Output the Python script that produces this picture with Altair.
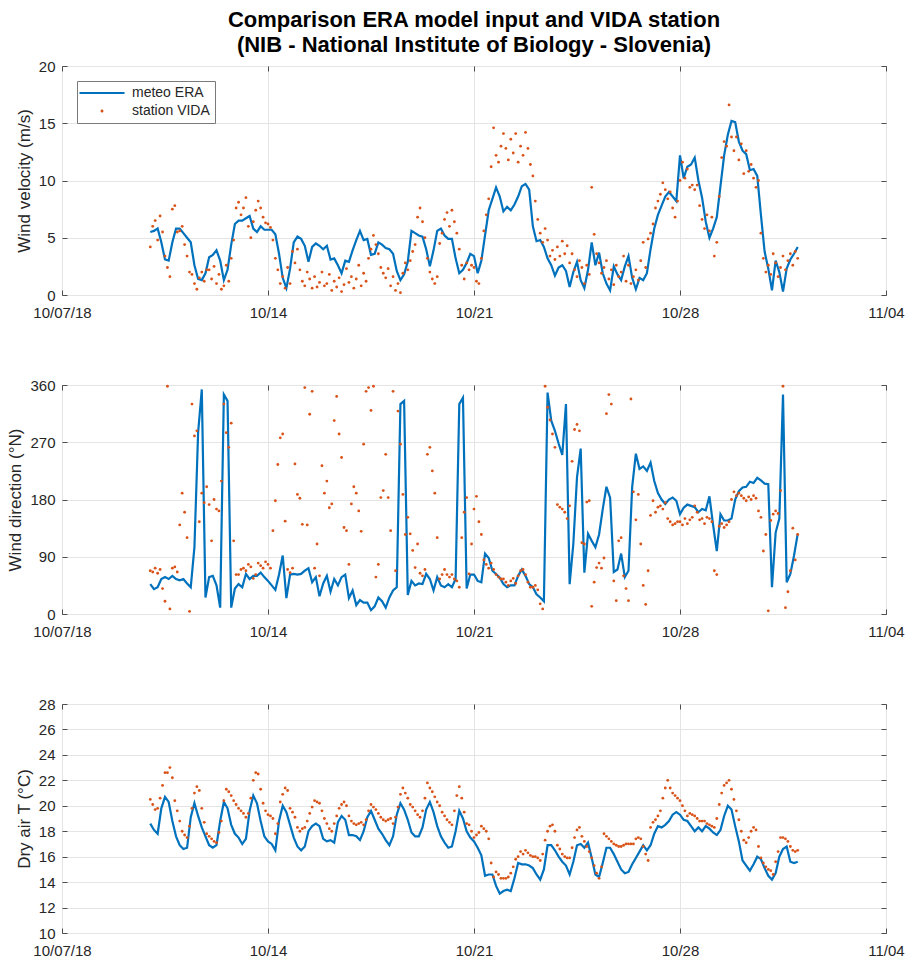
import altair as alt
import pandas as pd

# ERA model input, 3-hourly, 2018-10-10 00:00 .. 2018-11-01 00:00
era_speed = [
    5.5, 5.6, 5.8, 4.6, 3.1, 3.0, 4.6, 5.8,
    5.8, 5.4, 5.0, 4.6, 2.6, 1.4, 1.3, 1.9,
    3.3, 3.5, 3.9, 3.0, 1.3, 2.2, 4.4, 6.2,
    6.5, 6.5, 6.7, 6.9, 5.8, 5.5, 6.0, 5.7,
    5.7, 5.7, 5.3, 3.6, 1.5, 0.6, 2.3, 4.6,
    5.1, 4.9, 4.3, 2.9, 4.2, 4.5, 4.3, 4.0,
    4.3, 3.1, 3.2, 2.6, 1.9, 3.0, 2.9, 3.9,
    4.8, 5.6, 4.8, 4.9, 3.5, 3.6, 4.6, 4.4,
    4.1, 4.0, 3.6, 2.1, 1.3, 1.8, 2.9, 5.6,
    5.4, 5.2, 5.1, 4.0, 2.5, 3.9, 5.6, 5.8,
    5.2, 4.9, 4.9, 3.2, 1.9, 2.2, 2.8, 3.6,
    3.4, 1.9, 3.0, 5.2, 7.4, 8.4, 9.4, 8.6,
    7.3, 7.7, 7.4, 7.9, 8.6, 9.5, 9.7, 9.2,
    6.0, 4.7, 4.8, 4.2, 3.2, 2.6, 1.7, 2.4,
    2.6, 2.1, 0.7, 2.0, 2.9, 1.3, 0.6, 2.2,
    4.6, 2.6, 3.7, 1.9, 1.0, 0.4, 2.5, 1.8,
    1.3, 2.5, 3.4, 1.5, 0.5, 1.5, 1.3, 1.9,
    4.0, 5.8, 7.0, 7.8, 8.6, 9.0, 8.6, 8.2,
    12.2, 10.2, 11.2, 11.4, 12.0, 10.0, 8.5, 6.4,
    5.0, 5.8, 6.8, 9.5, 12.2, 14.0, 15.2, 15.1,
    13.4, 12.6, 12.3, 10.9, 11.0, 10.4, 7.0, 3.8,
    2.3, 0.4, 3.0, 2.0, 0.3, 2.3, 3.1, 3.6,
    4.2,
]
era_dir = [
    47, 39, 42, 55, 58, 55, 60, 55,
    53, 55, 48, 42, 105, 285, 353, 26,
    58, 60, 45, 10, 345, 335, 10, 40,
    47, 42, 63, 55, 60, 60, 65, 58,
    52, 45, 38, 62, 92, 25, 62, 63,
    62, 63, 68, 72, 50, 58, 28, 48,
    60, 35, 55, 45, 58, 62, 25, 37,
    14, 22, 18, 18, 6, 12, 26, 20,
    10, 26, 37, 42, 330, 335, 30, 52,
    45, 48, 47, 63, 55, 37, 58, 45,
    42, 47, 42, 55, 330, 340, 40, 62,
    62, 52, 50, 95, 88, 68, 63, 57,
    47, 42, 45, 45, 60, 70, 60, 47,
    42, 31, 26, 20, 348, 304, 288, 268,
    250, 330, 47, 110, 215, 260, 65, 126,
    115, 105, 125, 165, 200, 183, 66, 70,
    95, 58, 68, 200, 252, 228, 232, 225,
    238, 209, 190, 180, 173, 180, 183, 178,
    157, 167, 172, 170, 168, 160, 165, 163,
    185, 140, 99, 157, 147, 147, 150, 180,
    193, 199, 200, 208, 206, 214, 210, 205,
    204, 42, 128, 150, 345, 50, 63, 92,
    126,
]
era_temp = [
    18.6, 18.1, 17.8, 19.8, 20.7, 20.3, 18.8, 17.6,
    16.9, 16.6, 16.7, 19.1, 20.2, 19.2, 18.3, 17.6,
    16.9, 16.7, 16.9, 18.8, 20.3, 19.8, 18.5, 17.8,
    17.5, 17.0, 17.4, 19.6, 20.8, 20.2, 18.8, 17.6,
    17.2, 17.0, 16.5, 18.8, 20.0, 19.5, 18.5, 17.5,
    16.8, 16.5, 16.8, 18.0, 18.4, 18.6, 18.4, 17.4,
    17.2, 17.3, 17.1, 18.7, 19.2, 18.9, 17.7, 17.7,
    17.6, 17.3, 18.0, 19.1, 19.6, 18.9, 18.2, 17.8,
    17.3, 16.9, 17.6, 19.3, 20.2, 19.7, 18.9, 17.9,
    17.6, 17.6, 18.3, 19.7, 20.3, 19.5, 18.4, 17.6,
    17.1, 16.7, 16.8, 18.0, 19.6, 19.0, 18.0, 17.5,
    17.2, 16.7, 16.1, 14.5, 14.6, 14.6, 13.7, 13.1,
    13.3, 13.4, 13.3, 14.3, 15.5, 15.4, 15.4, 15.3,
    15.1, 14.6, 14.2, 15.0, 16.9, 16.9, 16.5, 16.0,
    15.6, 15.3, 14.6, 15.6, 16.9, 17.0, 16.7, 17.1,
    15.9, 14.6, 14.4, 15.5, 16.7, 16.7, 16.2, 15.6,
    15.0, 14.7, 14.8, 15.4, 15.9, 16.4, 16.9, 16.5,
    16.9, 17.8, 18.4, 18.3, 18.5, 18.8, 19.3, 19.5,
    19.3, 18.9, 18.8, 18.4, 18.0, 18.3, 18.0, 18.4,
    18.2, 17.9, 17.7, 18.1, 19.2, 20.0, 19.7, 18.4,
    17.2, 15.7, 15.3, 14.9, 15.4, 16.0, 15.8, 15.1,
    14.5, 14.2, 14.7, 16.0, 16.6, 16.8, 15.6, 15.5,
    15.6,
]

# VIDA station record, 2-hourly, 2018-10-10 00:00 .. 2018-11-01 00:00
vida_speed = [
    4.2, 6.0, 6.5, 4.8, 6.9, 5.5, 3.4, 2.4, 1.6, 7.5, 7.8, 5.5,
    5.6, 6.0, 4.4, 3.4, 2.0, 1.8, 1.0, 0.5, 1.5, 2.0, 1.2, 2.2,
    2.2, 1.4, 2.5, 1.0, 1.8, 0.5, 0.8, 2.6, 1.2, 3.2, 4.8, 7.6,
    8.1, 7.0, 7.6, 8.5, 6.0, 5.0, 6.4, 7.4, 8.2, 7.6, 6.8, 6.3,
    6.2, 5.9, 4.8, 3.2, 2.2, 1.0, 1.6, 0.6, 2.4, 1.0, 3.8, 2.8,
    4.0, 2.2, 1.2, 0.8, 2.0, 1.4, 0.6, 1.6, 0.7, 1.1, 2.0, 0.8,
    1.0, 1.8, 0.4, 1.2, 0.7, 1.5, 0.3, 0.9, 2.3, 1.1, 1.6, 0.6,
    1.4, 2.6, 0.8, 1.9, 1.2, 3.2, 4.0, 5.2, 4.4, 3.6, 2.4, 1.9,
    1.5, 2.3, 0.8, 1.6, 0.4, 1.0, 0.2, 1.9, 2.8, 2.2, 3.0, 3.8,
    4.4, 6.8, 7.6, 6.4, 5.0, 3.2, 2.0, 1.4, 1.0, 1.6, 4.5, 5.4,
    6.6, 7.2, 6.0, 7.4, 6.4, 5.4, 4.0, 2.6, 1.4, 2.8, 2.2, 2.6,
    2.4, 1.2, 1.0, 3.2, 5.6, 7.0, 8.4, 11.2, 14.6, 12.2, 11.6, 13.0,
    14.1, 12.8, 11.8, 13.6, 12.4, 14.1, 11.6, 13.0, 12.2, 14.2, 12.8, 11.4,
    10.4, 8.2, 6.6, 5.4, 4.6, 5.8, 4.8, 3.4, 3.9, 3.1, 4.2, 3.4,
    4.7, 3.6, 4.3, 2.8, 3.6, 2.2, 1.6, 3.0, 2.4, 1.0, 2.6, 1.8,
    9.4, 5.3, 3.6, 2.8, 1.9, 2.4, 3.0, 1.4, 2.2, 0.9, 2.6, 1.6,
    2.0, 3.4, 1.2, 2.6, 1.0, 1.6, 2.2, 1.3, 3.0, 4.6, 2.4, 4.9,
    5.4, 6.2, 7.6, 8.2, 8.8, 9.8, 9.2, 8.4, 9.0, 7.6, 6.8, 8.2,
    10.0, 11.6, 10.2, 11.0, 9.4, 9.6, 9.2, 9.6, 7.8, 6.6, 5.8, 7.0,
    5.6, 6.8, 3.4, 4.6, 8.6, 12.0, 13.4, 13.0, 16.6, 13.8, 12.6, 13.8,
    11.8, 13.2, 10.6, 12.6, 10.8, 11.4, 10.2, 9.4, 10.0, 5.4, 3.2, 2.0,
    2.6, 1.8, 3.6, 2.8, 1.6, 2.4, 3.4, 2.2, 3.0, 3.6, 2.6, 3.8,
    3.2,
]
vida_dir = [
    68, 66, 72, 64, 70, 40, 20, 358, 8, 72, 74, 66,
    140, 190, 160, 120, 4, 330, 280, 288, 145, 190, 175, 200,
    172, 115, 180, 165, 162, 209, 330, 285, 262, 300, 115, 62,
    62, 70, 72, 68, 78, 74, 56, 62, 80, 76, 72, 82,
    78, 72, 131, 178, 235, 277, 283, 146, 70, 65, 72, 236,
    188, 182, 141, 356, 140, 314, 350, 72, 110, 60, 233, 190,
    209, 167, 173, 304, 342, 283, 246, 136, 131, 78, 173, 200,
    190, 162, 130, 267, 350, 356, 320, 358, 58, 78, 183, 194,
    251, 183, 131, 350, 68, 319, 267, 188, 125, 152, 126, 100,
    73, 110, 64, 60, 70, 251, 262, 225, 190, 120, 55, 62,
    70, 62, 58, 62, 55, 52, 42, 120, 160, 183, 63, 110,
    165, 185, 145, 125, 85, 78, 72, 80, 70, 62, 58, 55,
    55, 50, 45, 52, 56, 48, 60, 68, 70, 62, 50, 42,
    42, 45, 38, 16, 8, 358, 325, 305, 283, 262, 172, 168,
    165, 160, 150, 170, 240, 290, 298, 288, 112, 110, 176, 178,
    12, 50, 73, 80, 72, 88, 315, 345, 330, 52, 21, 115,
    120, 60, 40, 21, 338, 192, 148, 188, 110, 45, 15, 68,
    155, 178, 160, 168, 170, 165, 175, 150, 145, 140, 142, 145,
    145, 140, 150, 142, 148, 152, 170, 160, 148, 150, 142, 152,
    150, 145, 68, 62, 138, 142, 136, 140, 145, 180, 192, 186,
    190, 186, 182, 178, 184, 180, 186, 182, 162, 152, 99, 125,
    5, 147, 157, 162, 158, 194, 358, 10, 35, 68, 135, 85,
    125,
]
vida_temp = [
    20.5, 20.1, 19.7, 19.8, 20.6, 21.6, 22.6, 22.6, 23.0, 22.2, 20.4, 19.6,
    18.8, 18.0, 17.7, 17.5, 18.4, 19.8, 21.0, 21.5, 21.2, 19.8, 18.7, 17.8,
    17.6, 17.4, 17.2, 17.1, 17.9, 18.8, 20.4, 21.3, 21.1, 20.8, 20.4, 20.1,
    19.8, 19.6, 19.4, 19.1, 19.4, 20.6, 22.0, 22.6, 22.5, 21.3, 20.2, 19.6,
    19.3, 19.2, 19.0, 17.8, 18.6, 20.3, 20.9, 21.4, 21.2, 19.8, 19.5, 19.1,
    18.3, 18.0, 18.2, 18.3, 18.8, 19.4, 19.9, 20.4, 20.3, 20.2, 19.6, 19.0,
    18.6, 18.2, 18.0, 18.6, 19.2, 19.8, 20.1, 20.3, 20.0, 19.2, 18.8, 18.6,
    18.5, 18.6, 18.7, 18.5, 18.9, 19.6, 20.1, 19.9, 19.7, 19.4, 19.1, 18.9,
    18.8, 18.9, 19.0, 18.6, 19.1, 19.9, 20.9, 21.4, 21.0, 20.6, 20.1, 19.9,
    19.6, 19.3, 19.1, 19.6, 20.6, 21.8, 21.4, 21.1, 20.7, 20.3, 20.0, 19.5,
    19.2, 18.9, 18.7, 18.5, 19.6, 20.8, 21.5, 20.6, 19.5, 18.6, 18.5, 18.0,
    17.5, 17.7, 17.9, 18.4, 18.2, 18.0, 17.4, 15.5, 14.4, 14.8, 14.6, 14.3,
    14.3, 14.3, 14.4, 14.7, 15.2, 15.8, 16.0, 16.4, 16.2, 16.5, 16.3, 16.1,
    16.0, 16.0, 15.9, 15.7, 16.2, 17.3, 18.0, 18.4, 18.5, 18.0, 16.9, 16.6,
    16.2, 16.0, 15.9, 15.9, 16.7, 17.5, 18.1, 18.3, 17.6, 17.2, 16.8, 16.4,
    15.9, 15.3, 14.7, 14.3, 15.2, 17.8, 17.6, 17.4, 17.2, 17.0, 16.9, 16.8,
    16.8, 16.9, 17.0, 17.0, 17.0, 17.0, 17.4, 17.5, 17.4, 16.8, 16.2, 15.7,
    18.3, 18.7, 18.9, 19.2, 19.6, 20.6, 21.4, 22.0, 21.4, 21.0, 20.8, 20.6,
    20.4, 20.0, 19.6, 19.2, 19.4, 19.3, 19.2, 19.0, 18.8, 18.8, 18.8, 18.6,
    18.5, 18.4, 18.3, 19.0, 20.1, 21.0, 21.6, 21.8, 22.0, 21.3, 20.5, 19.6,
    18.9, 18.0, 17.3, 17.1, 17.5, 18.0, 18.3, 18.1, 16.8, 15.9, 15.5, 15.2,
    15.0, 14.9, 14.6, 15.6, 16.4, 17.5, 17.5, 17.4, 17.2, 16.8, 16.5, 16.4,
    16.5,
]

ERA_NAME = "meteo ERA"
VIDA_NAME = "station VIDA"
BLUE = "#0072BD"
ORANGE = "#D95319"

era = pd.DataFrame({
    "time": pd.date_range("2018-10-10", "2018-11-01", freq="3h"),
    "speed": era_speed, "direction": era_dir, "temp": era_temp,
    "source": ERA_NAME,
})
vida = pd.DataFrame({
    "time": pd.date_range("2018-10-10", "2018-11-01", freq="2h"),
    "speed": vida_speed, "direction": vida_dir, "temp": vida_temp,
    "source": VIDA_NAME,
})

W, H = 824, 229
FONT = "Liberation Sans"
TEXT = "#262626"

x_scale = alt.Scale(domain=[alt.DateTime(year=2018, month=10, date=7),
                            alt.DateTime(year=2018, month=11, date=4)])
x_ticks = [alt.DateTime(year=2018, month=10, date=d) for d in (7, 14, 21, 28)] + \
          [alt.DateTime(year=2018, month=11, date=4)]
x_label = ("timeFormat(datum.value, '%m/%d') + "
           "((month(datum.value) == 9 && date(datum.value) == 7) ? '/18' : '')")

# legend: a line sample for the model, a small dot for the station
color_scale = alt.Scale(domain=[ERA_NAME, VIDA_NAME], range=[BLUE, ORANGE])
is_era = "datum.value === '" + ERA_NAME + "'"
dot_path = "M-0.3,0A0.3,0.3 0 1,0 0.3,0A0.3,0.3 0 1,0 -0.3,0Z"
legend = alt.Legend(
    title=None, orient="top-left", offset=15,
    labelFont=FONT, labelFontSize=14, labelColor=TEXT,
    strokeColor="#7a7a7a", fillColor="white", padding=5,
    symbolSize=100, symbolOffset=13, labelOffset=23, rowPadding=4,
    symbolType={"expr": f"{is_era} ? 'M-4.5,0H4.5' : '{dot_path}'"},
    symbolStrokeWidth={"expr": f"{is_era} ? 2 : 0"},
    symbolStrokeColor={"expr": f"{is_era} ? '{BLUE}' : '{ORANGE}'"},
    symbolFillColor={"expr": f"{is_era} ? 'transparent' : '{ORANGE}'"},
    symbolOpacity=1,
)


def panel(field, ydomain, yticks, ytitle, with_legend=False):
    y_scale = alt.Scale(domain=ydomain, nice=False, zero=False)

    # main axes: labels, grid and titles
    x_main = alt.X("time:T", scale=x_scale, axis=alt.Axis(
        values=x_ticks, labelExpr=x_label, title=None, grid=True, ticks=False,
        domain=False, labelFlush=False, labelPadding=10))
    y_main = alt.Y(f"{field}:Q", scale=y_scale, axis=alt.Axis(
        values=yticks, title=ytitle, grid=True, ticks=False, domain=False,
        labelPadding=7, titlePadding=5))

    # inward tick marks on all four sides of the box
    tick_opts = dict(labels=False, grid=False, domain=False, title=None,
                     ticks=True, tickSize=5, tickColor="#4d4d4d", tickWidth=1)
    x_in_bottom = alt.X("time:T", scale=x_scale, axis=alt.Axis(
        orient="top", offset=-H, values=x_ticks, **tick_opts))
    y_in_left = alt.Y(f"{field}:Q", scale=y_scale, axis=alt.Axis(
        orient="right", offset=-W, values=yticks, **tick_opts))
    x_in_top = alt.X("time:T", scale=x_scale, axis=alt.Axis(
        orient="bottom", offset=-H, values=x_ticks, **tick_opts))
    y_in_right = alt.Y(f"{field}:Q", scale=y_scale, axis=alt.Axis(
        orient="left", offset=-W, values=yticks, **tick_opts))

    if with_legend:
        line_color = alt.Color("source:N", scale=color_scale, legend=legend)
        dot_color = alt.Color("source:N", scale=color_scale, legend=legend)
    else:
        line_color = alt.value(BLUE)
        dot_color = alt.value(ORANGE)

    dots = alt.Chart(vida).mark_circle(size=8, opacity=1).encode(
        x=x_in_bottom, y=y_in_left, color=dot_color)
    line = alt.Chart(era).mark_line(strokeWidth=2.2).encode(
        x=x_main, y=y_main, color=line_color)
    frame_ticks = alt.Chart(era).mark_line(opacity=0).encode(
        x=x_in_top, y=y_in_right)

    return alt.layer(line, dots, frame_ticks).resolve_axis(
        x="independent", y="independent").properties(width=W, height=H)


p1 = panel("speed", [0, 20], [0, 5, 10, 15, 20], "Wind velocity (m/s)", with_legend=True)
p2 = panel("direction", [0, 360], [0, 90, 180, 270, 360], "Wind direction (°N)")
p3 = panel("temp", [10, 28], list(range(10, 29, 2)), "Dry air T (°C)")

chart = alt.vconcat(p1, p2, p3, spacing=90, bounds="flush").properties(
    title=alt.TitleParams(
        ["Comparison ERA model input and VIDA station",
         "(NIB - National Institute of Biology - Slovenia)"],
        font=FONT, fontSize=22, fontWeight="bold", color="black",
        anchor="middle", frame="group", lineHeight=25, offset=2),
    padding={"left": 6, "top": 8, "right": 0, "bottom": 5},
    background="white",
).resolve_scale(color="independent").resolve_legend(color="independent").configure_view(
    stroke="#8a8a8a", strokeWidth=1
).configure_axis(
    labelFont=FONT, labelFontSize=15, labelColor=TEXT,
    titleFont=FONT, titleFontSize=17, titleFontWeight="normal", titleColor=TEXT,
    gridColor="#e4e4e4", gridWidth=1,
)

chart.save("out.html", embed_options={"renderer": "svg", "actions": False})
